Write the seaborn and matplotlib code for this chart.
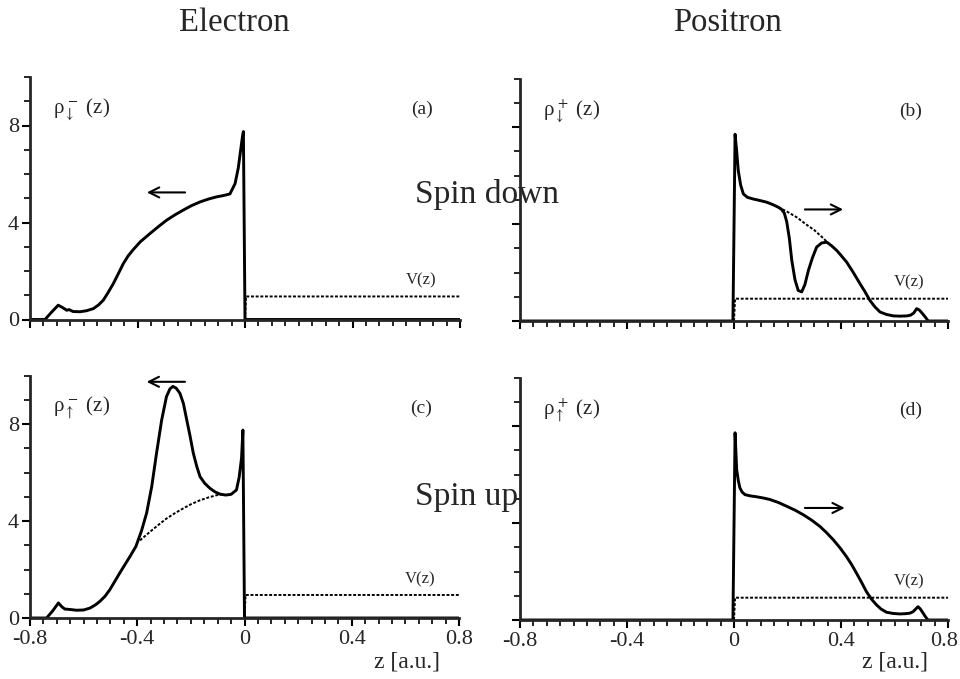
import numpy as np
import pandas as pd
import matplotlib
matplotlib.use("Agg")
import matplotlib.pyplot as plt
from matplotlib.ticker import MultipleLocator, FixedLocator, FixedFormatter
from matplotlib.transforms import ScaledTranslation
import seaborn as sns

# ---------------- data ----------------
# (a) electron, spin down
z_e_down = [-0.8, -0.744, -0.72, -0.695, -0.68, -0.663, -0.655, -0.64, -0.614, -0.59,
            -0.564, -0.545, -0.527, -0.51, -0.49, -0.47, -0.453, -0.435, -0.416, -0.39,
            -0.353, -0.32, -0.291, -0.26, -0.23, -0.2, -0.167, -0.135, -0.105, -0.08,
            -0.056, -0.037, -0.025, -0.016, -0.01, -0.006, 0.0, 0.8]
rho_e_down = [0, 0, 0.3, 0.59, 0.5, 0.38, 0.41, 0.33, 0.32, 0.36,
              0.45, 0.6, 0.8, 1.1, 1.48, 1.92, 2.3, 2.62, 2.88, 3.2,
              3.55, 3.85, 4.1, 4.32, 4.51, 4.69, 4.85, 4.97, 5.06, 5.11,
              5.18, 5.6, 6.25, 7.0, 7.5, 7.75, 0, 0]

# (c) electron, spin up
z_e_up = [-0.8, -0.738, -0.715, -0.694, -0.68, -0.67, -0.65, -0.626, -0.6, -0.576,
          -0.555, -0.539, -0.52, -0.502, -0.465, -0.427, -0.405, -0.384, -0.365, -0.346,
          -0.328, -0.309, -0.291, -0.278, -0.267, -0.255, -0.241, -0.228, -0.216, -0.203,
          -0.191, -0.178, -0.166, -0.148, -0.129, -0.11, -0.092, -0.07, -0.05, -0.03,
          -0.02, -0.011, -0.006, 0.0, 0.8]
rho_e_up = [0, 0, 0.3, 0.62, 0.45, 0.37, 0.35, 0.32, 0.33, 0.41,
            0.55, 0.69, 0.9, 1.17, 1.86, 2.54, 2.95, 3.6, 4.33, 5.42,
            6.8, 8.16, 9.13, 9.45, 9.55, 9.48, 9.27, 8.85, 8.2, 7.5,
            6.8, 6.25, 5.83, 5.55, 5.35, 5.2, 5.11, 5.07, 5.1, 5.28,
            5.8, 6.6, 7.75, 0, 0]

# (b) positron, spin down
z_p_down = [-0.8, -0.004, 0.004, 0.01, 0.016, 0.025, 0.035, 0.05, 0.072, 0.1,
            0.122, 0.145, 0.166, 0.178, 0.188, 0.197, 0.207, 0.216, 0.228, 0.24,
            0.253, 0.265, 0.278, 0.293, 0.309, 0.328, 0.347, 0.365, 0.384, 0.402,
            0.421, 0.446, 0.471, 0.49, 0.508, 0.527, 0.546, 0.57, 0.596, 0.62,
            0.646, 0.66, 0.672, 0.683, 0.693, 0.705, 0.716, 0.726, 0.8]
rho_p_down = [0, 0, 7.7, 7.0, 6.2, 5.6, 5.24, 5.1, 5.03, 4.96,
              4.9, 4.8, 4.69, 4.6, 4.45, 4.1, 3.4, 2.5, 1.7, 1.26,
              1.2, 1.5, 2.08, 2.6, 3.05, 3.22, 3.25, 3.1, 2.91, 2.68,
              2.43, 2.0, 1.54, 1.2, 0.85, 0.58, 0.37, 0.27, 0.21, 0.2,
              0.21, 0.24, 0.33, 0.51, 0.45, 0.3, 0.15, 0, 0]
# (b) dotted continuation (unperturbed density)
z_p_down_dot = [0.166, 0.2, 0.234, 0.27, 0.3, 0.33, 0.347]
rho_p_down_dot = [4.69, 4.5, 4.28, 3.98, 3.75, 3.45, 3.27]

# (d) positron, spin up
z_p_up = [-0.8, -0.004, 0.004, 0.01, 0.016, 0.022, 0.03, 0.041, 0.06, 0.085,
          0.11, 0.134, 0.165, 0.197, 0.228, 0.259, 0.29, 0.321, 0.346, 0.371,
          0.396, 0.42, 0.44, 0.458, 0.477, 0.495, 0.514, 0.533, 0.55, 0.57,
          0.595, 0.62, 0.64, 0.657, 0.669, 0.679, 0.688, 0.697, 0.707, 0.716,
          0.725, 0.8]
rho_p_up = [0, 0, 7.72, 6.2, 5.75, 5.45, 5.28, 5.17, 5.12, 5.08,
            5.03, 4.97, 4.85, 4.69, 4.53, 4.34, 4.12, 3.86, 3.6, 3.31,
            2.98, 2.62, 2.28, 1.93, 1.55, 1.17, 0.86, 0.62, 0.45, 0.32,
            0.27, 0.25, 0.26, 0.28, 0.34, 0.45, 0.55, 0.45, 0.28, 0.13,
            0, 0]

# (c) dotted = spin-down electron density over this z range
z_e_up_dot_range = [-0.40, -0.06]

# step potential V(z)
z_v = [0.0, 0.004, 0.8]
v_electron = [0.0, 0.95, 0.95]
v_positron = [0.0, 0.92, 0.92]

# arrows (tail z, head z, height)
arrow_a = [-0.223, -0.365, 5.24]
arrow_b = [0.265, 0.408, 4.6]
arrow_c = [-0.222, -0.365, 9.74]
arrow_d = [0.265, 0.414, 4.62]

xtick_vals = [-0.8, -0.4, 0.0, 0.4, 0.8]
xtick_labels = ['-0.8', '-0.4', '0', '0.4', '0.8']
ytick_vals = [0, 4, 8]
ytick_labels = ['0', '4', '8']

col_titles = ['Electron', 'Positron']
row_titles = ['Spin down', 'Spin up']
panel_letters = ['(a)', '(b)', '(c)', '(d)']
rho_labels = [r'ρ$_{\downarrow}^{\,-}$ (z)', r'ρ$_{\downarrow}^{\,+}$ (z)',
              r'ρ$_{\uparrow}^{\,-}$ (z)', r'ρ$_{\uparrow}^{\,+}$ (z)']

# ---------------- style ----------------
sns.set_style("ticks")
plt.rcParams['font.family'] = ['Liberation Serif', 'DejaVu Serif']
plt.rcParams['mathtext.fontset'] = 'stix'
plt.rcParams['axes.unicode_minus'] = False

W, H = 960, 679
fig = plt.figure(figsize=(W / 100, H / 100), dpi=100)

def rect(l, r, b, t):
    return [l / W, 1 - b / H, (r - l) / W, (b - t) / H]

axes = [
    fig.add_axes(rect(30, 460, 319.5, 77)),
    fig.add_axes(rect(520, 948, 321, 78.5)),
    fig.add_axes(rect(30, 459, 618, 375.5)),
    fig.add_axes(rect(520, 948, 620, 377.5)),
]

LW = 2.1
DOT = dict(color='black', lw=1.4, linestyle=(0, (1.5, 0.9)))

def solid(ax, z, r):
    df = pd.DataFrame({'z': z, 'rho': r})
    sns.lineplot(data=df, x='z', y='rho', ax=ax, color='black', lw=LW,
                 estimator=None, sort=False, legend=False)

def dotted(ax, z, r):
    df = pd.DataFrame({'z': z, 'rho': r})
    sns.lineplot(data=df, x='z', y='rho', ax=ax, estimator=None, sort=False,
                 legend=False, **DOT)

# (a)
solid(axes[0], z_e_down, rho_e_down)
dotted(axes[0], z_v, v_electron)
# (b)
solid(axes[1], z_p_down, rho_p_down)
dotted(axes[1], z_p_down_dot, rho_p_down_dot)
dotted(axes[1], z_v, v_positron)
# (c)
solid(axes[2], z_e_up, rho_e_up)
zed = np.array(z_e_down)
red = np.array(rho_e_down)
m = (zed >= z_e_up_dot_range[0]) & (zed <= z_e_up_dot_range[1])
dotted(axes[2], zed[m], red[m])
dotted(axes[2], z_v, v_electron)
# (d)
solid(axes[3], z_p_up, rho_p_up)
dotted(axes[3], z_v, v_positron)

for i, (ax, arr) in enumerate(zip(axes, [arrow_a, arrow_b, arrow_c, arrow_d])):
    ax.annotate('', xy=(arr[1], arr[2]), xytext=(arr[0], arr[2]),
                arrowprops=dict(arrowstyle='->', color='black', lw=1.5,
                                mutation_scale=18, shrinkA=0, shrinkB=0),
                annotation_clip=False)
    ax.set_xlim(-0.8, 0.8)
    ax.set_ylim(0, 10)
    sns.despine(ax=ax)
    for s in ['left', 'bottom']:
        ax.spines[s].set_linewidth(2.0)
    ax.xaxis.set_major_locator(FixedLocator(xtick_vals))
    ax.xaxis.set_minor_locator(MultipleLocator(0.05))
    ax.yaxis.set_major_locator(FixedLocator(ytick_vals))
    ax.yaxis.set_minor_locator(MultipleLocator(1))
    ax.tick_params(which='major', direction='out', length=6, width=1.5,
                   labelsize=16, color='black')
    ax.tick_params(axis='x', which='major', pad=3)
    ax.tick_params(axis='y', which='major', pad=2)
    ax.tick_params(which='minor', direction='out', length=4, width=1.2,
                   color='black')
    ax.set_xlabel('')
    ax.set_ylabel('')
    if i >= 2:
        ax.xaxis.set_major_formatter(FixedFormatter(xtick_labels))
    else:
        ax.set_xticklabels([])
    if i % 2 == 0:
        ax.yaxis.set_major_formatter(FixedFormatter(ytick_labels))
    else:
        ax.set_yticklabels([])
    ax.set_facecolor('white')
    ax.text(-0.714, 8.65, rho_labels[i], fontsize=15, ha='left', va='center')
    ax.text(0.66, 8.65, panel_letters[i], fontsize=14, ha='center', va='center')
    ax.text(0.655, 1.6, 'V(z)', fontsize=12, ha='center', va='center')

# column titles and row titles
fig.text(234 / W, 1 - 23 / H, col_titles[0], fontsize=23.5, ha='center', va='center')
fig.text(727 / W, 1 - 23 / H, col_titles[1], fontsize=23.5, ha='center', va='center')
fig.text(415 / W, 1 - 195 / H, row_titles[0], fontsize=24, ha='left', va='center')
fig.text(415 / W, 1 - 497 / H, row_titles[1], fontsize=24, ha='left', va='center')

# axis labels
fig.text(440 / W, 1 - 662 / H, 'z [a.u.]', fontsize=17, ha='right', va='center')
fig.text(928 / W, 1 - 662 / H, 'z [a.u.]', fontsize=17, ha='right', va='center')

# keep the last tick label of panel (d) inside the figure, as in the reference
fig.canvas.draw()
lbl = axes[3].get_xticklabels()[-1]
lbl.set_transform(lbl.get_transform() + ScaledTranslation(-4 / 100, 0, fig.dpi_scale_trans))

fig.savefig('out.png', dpi=100, facecolor='white')
